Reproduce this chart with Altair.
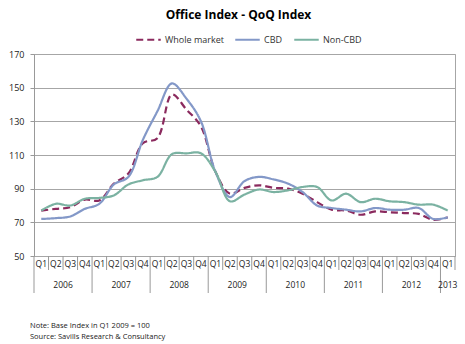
import altair as alt
import pandas as pd

quarters = ["Q1", "Q2", "Q3", "Q4"] * 7 + ["Q1"]
years = ["2006"] * 4 + ["2007"] * 4 + ["2008"] * 4 + ["2009"] * 4 + ["2010"] * 4 + ["2011"] * 4 + ["2012"] * 4 + ["2013"]

whole_market = [77, 78, 79, 83.5, 83, 93, 99, 117, 120, 146, 137, 127, 100, 87, 90.5, 92,
                90.5, 90, 87, 82, 77.5, 77, 74.5, 76.5, 76, 75.5, 75, 71.5, 73]
cbd = [72, 72.5, 73.5, 78, 81, 92.5, 97, 119, 136, 152.5, 143.5, 130, 100, 85, 94.5, 97,
       95.5, 93, 88, 80, 78.5, 77.5, 76.5, 78.5, 77.5, 77.5, 78.5, 72, 73]
non_cbd = [77, 81, 80, 84, 84.5, 86, 92.5, 95, 97, 110.5, 111, 111, 100, 82.5, 86.5, 89.5,
           88, 89, 91, 91, 83, 87, 82, 84, 82.5, 82, 80.5, 80.5, 77]

series_names = ["Whole market", "CBD", "Non-CBD"]
series_colors = ["#8B2A5E", "#8398C8", "#7BB2A2"]

y_ticks = [50, 70, 90, 110, 130, 150, 170]
notes = ["Note: Base Index in Q1 2009 = 100", "Source: Savills Research & Consultancy"]

FONT = "Open Sans"
W, H = 421, 202

n = len(quarters)
rows = []
for name, vals in zip(series_names, [whole_market, cbd, non_cbd]):
    for i, v in enumerate(vals):
        rows.append({"idx": i, "series": name, "value": v})
df = pd.DataFrame(rows)

cat_df = pd.DataFrame({"idx": list(range(n)), "q": quarters, "year": years})
year_df = cat_df.groupby("year", as_index=False)["idx"].mean()

sep_rows = []
for i in range(n + 1):
    is_year = (i == 0) or (i < n and years[i] != years[i - 1])
    sep_rows.append({"pos": i - 0.5, "kind": "year" if is_year else "quarter"})
sep_df = pd.DataFrame(sep_rows)

note_df = pd.DataFrame({"text": notes, "line": list(range(len(notes)))})

xscale = alt.Scale(domain=[-0.5, n - 0.5], nice=False, zero=False)

legend_cfg = dict(title=None, orient="none", direction="horizontal",
                  legendX=101, legendY=-28, symbolType="stroke",
                  symbolSize=600, symbolStrokeWidth=2.2,
                  labelFont=FONT, labelFontSize=9, labelColor="#333333",
                  columnPadding=6, labelOffset=3)

lines = alt.Chart(df).mark_line(interpolate="catmull-rom", strokeWidth=2.2).encode(
    x=alt.X("idx:Q", scale=xscale, axis=None),
    y=alt.Y("value:Q",
            scale=alt.Scale(domain=[50, 170], nice=False, zero=False),
            axis=alt.Axis(values=y_ticks, title=None, tickSize=4, tickColor="#999999",
                          domainColor="#999999", gridColor="#A6A6A6", gridWidth=1,
                          labelFont=FONT, labelFontSize=9, labelColor="#222222",
                          labelPadding=6)),
    color=alt.Color("series:N",
                    scale=alt.Scale(domain=series_names, range=series_colors),
                    legend=alt.Legend(**legend_cfg)),
    strokeDash=alt.StrokeDash("series:N",
                              scale=alt.Scale(domain=series_names,
                                              range=[[7, 4], [1, 0], [1, 0]]),
                              legend=alt.Legend(**legend_cfg)),
    order="idx:Q",
)

short_seps = alt.Chart(sep_df).transform_filter("datum.kind == 'quarter'").mark_rule(
    color="#999999", strokeWidth=1).encode(
    x=alt.X("pos:Q", scale=xscale), y=alt.value(H), y2=alt.value(H + 14))
long_seps = alt.Chart(sep_df).transform_filter("datum.kind == 'year'").mark_rule(
    color="#999999", strokeWidth=1).encode(
    x=alt.X("pos:Q", scale=xscale), y=alt.value(H), y2=alt.value(H + 37))

q_labels = alt.Chart(cat_df).mark_text(font=FONT, fontSize=8.5, color="#222222",
                                       baseline="middle").encode(
    x=alt.X("idx:Q", scale=xscale), y=alt.value(H + 8), text="q:N")

y_labels = alt.Chart(year_df).mark_text(font=FONT, fontSize=8.5, color="#222222",
                                        baseline="middle").encode(
    x=alt.X("idx:Q", scale=xscale), y=alt.value(H + 29), text="year:N")

note_text = alt.Chart(note_df).mark_text(font=FONT, fontSize=7.5, color="#222222",
                                         align="left", baseline="middle").encode(
    x=alt.value(-4),
    y=alt.Y("line:Q", scale=alt.Scale(domain=[0, 1], range=[H + 70, H + 81]), axis=None),
    text="text:N")

chart = alt.layer(lines, short_seps, long_seps, q_labels, y_labels, note_text).resolve_scale(
    y="independent").properties(
    width=W, height=H,
    title=alt.Title("Office Index - QoQ Index", font=FONT, fontSize=12, fontWeight="bold",
                    color="#000000", anchor="middle", frame="group", offset=4, dx=-6),
    padding={"left": 34, "top": 54, "right": 10, "bottom": 88},
    autosize=alt.AutoSizeParams(type="none"),
    background="white",
).configure_view(stroke="#A6A6A6", strokeWidth=1)

chart.save("out.html", embed_options={"renderer": "svg", "actions": False})
